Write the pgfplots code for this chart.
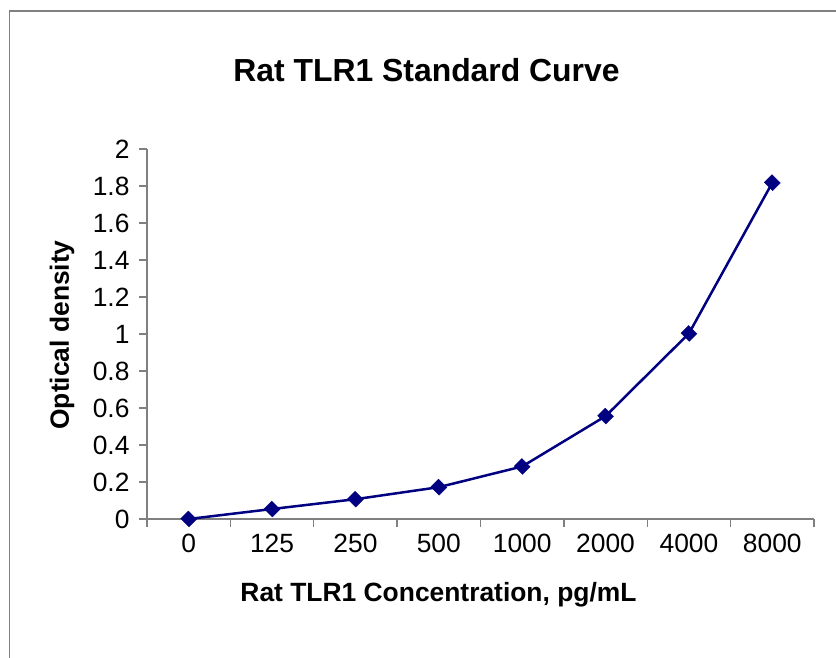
\documentclass[border=0pt]{standalone}
\usepackage{fontspec}
\setmainfont{Liberation Sans}
\usepackage{pgfplots}
\pgfplotsset{compat=1.18}
\definecolor{navyline}{HTML}{000080}
\definecolor{axgray}{HTML}{808080}
\begin{document}
\begin{tikzpicture}[x=1bp,y=1bp]
\path[use as bounding box] (0,0) rectangle (836,658);
\draw[axgray, line width=1.5bp] (9.5,0) -- (9.5,647) -- (836,647);
\begin{axis}[
  at={(147bp,139bp)}, anchor=south west,
  scale only axis, width=667bp, height=370bp,
  xmin=-0.5, xmax=7.5, ymin=0, ymax=2,
  axis x line=bottom, axis y line=left,
  axis line style={-, axgray, line width=1.3bp},
  xtick={0,...,7},
  xticklabels={0,125,250,500,1000,2000,4000,8000},
  minor xtick={-0.5,0.5,...,7.5},
  ytick={0,0.2,...,2.01},
  yticklabels={0,0.2,0.4,0.6,0.8,1,1.2,1.4,1.6,1.8,2},
  tick align=outside,
  major tick length=8bp, minor tick length=8bp,
  x tick style={draw=none},
  minor x tick style={draw=axgray, line width=1.3bp},
  y tick style={draw=axgray, line width=1.3bp},
  tick label style={font=\fontsize{26.5}{30}\selectfont},
  xticklabel style={yshift=-4bp},
  yticklabel style={xshift=-6bp},
  /pgf/number format/assume math mode=true,
  clip=false,
]
\addplot[navyline, line width=2.5bp, mark=square*, mark size=5.4bp, mark options={fill=navyline, draw=navyline, line width=0.4bp, rotate=45, yscale=1.08}]
coordinates {(0,0) (1,0.054) (2,0.107) (3,0.172) (4,0.284) (5,0.556) (6,1.003) (7,1.818)};
\end{axis}
\node[font=\bfseries\fontsize{32}{38}\selectfont] at (426.5,588) {Rat TLR1 Standard Curve};
\node[font=\bfseries\fontsize{26.5}{30}\selectfont, anchor=base] at (438.5,56) {Rat TLR1 Concentration, pg/mL};
\node[font=\bfseries\fontsize{26.5}{30}\selectfont, rotate=90] at (62,323) {Optical density};
\end{tikzpicture}
\end{document}
